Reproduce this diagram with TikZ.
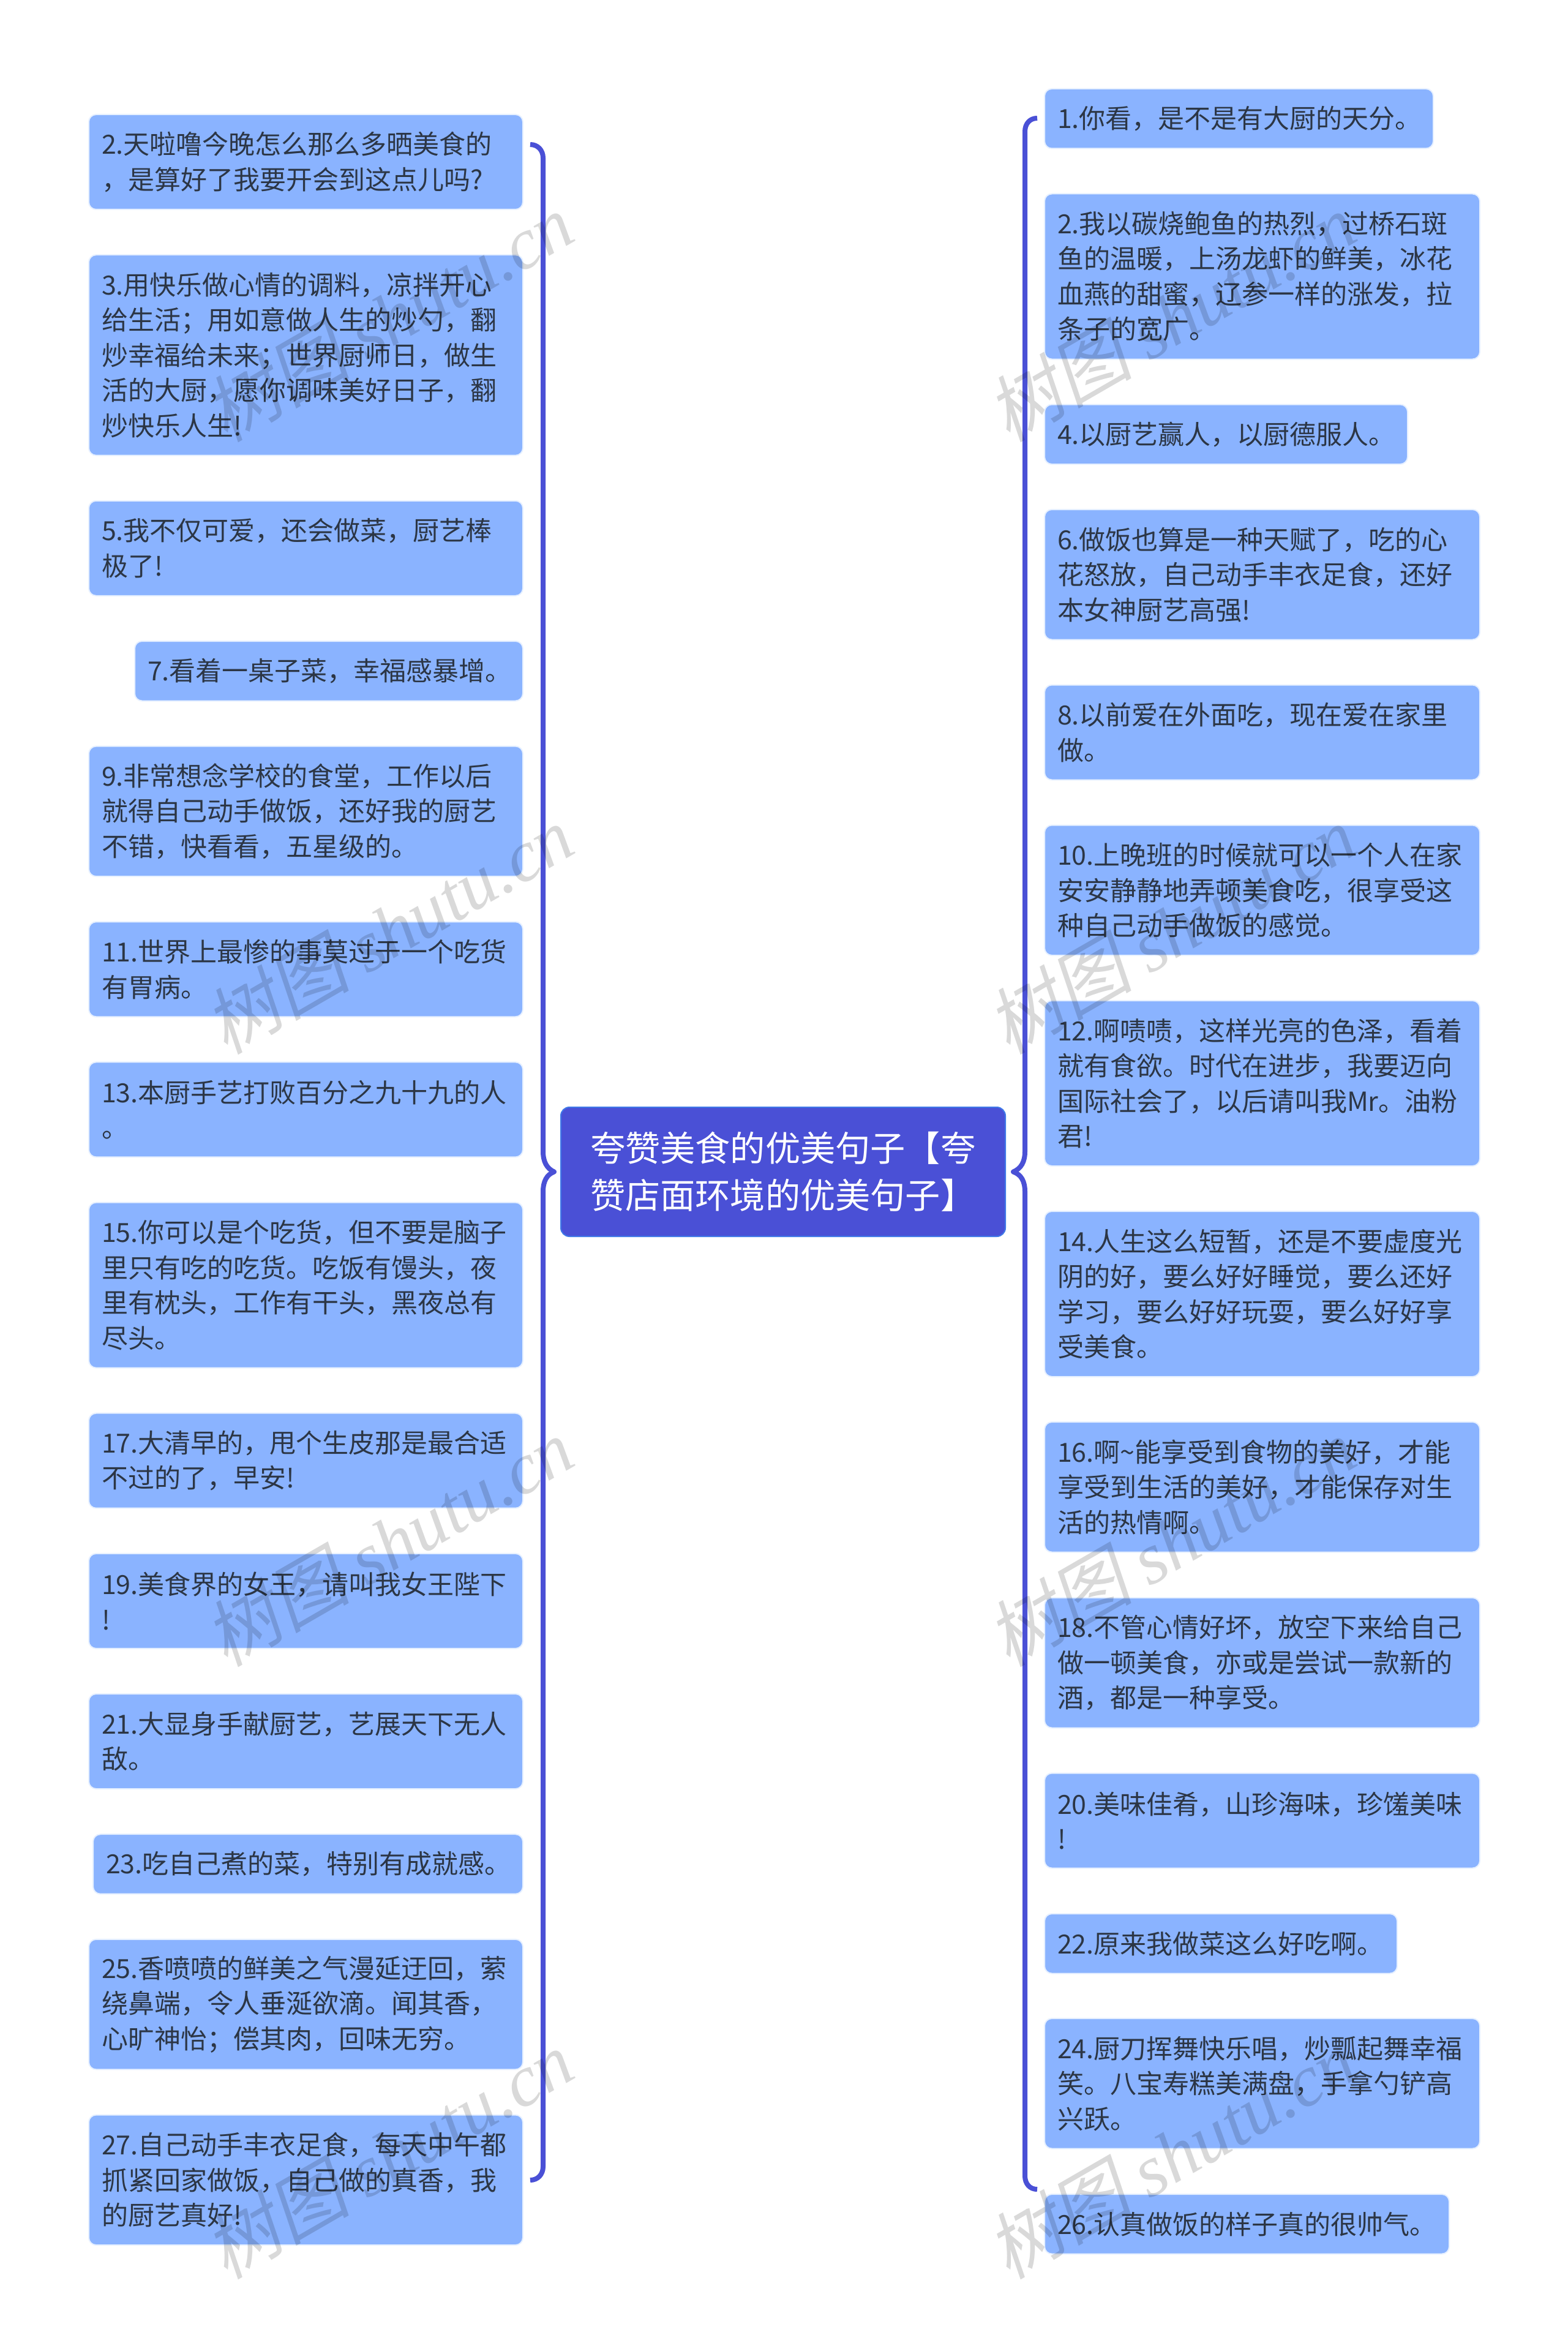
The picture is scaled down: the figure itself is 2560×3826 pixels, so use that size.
\documentclass[tikz,border=0pt]{standalone}
\usepackage{fontspec}
\setmainfont{Noto Sans CJK SC}
\newfontfamily\wmcjk[FakeSlant=0.2]{Noto Sans CJK SC}
\newfontfamily\wmlat{Liberation Serif}
\definecolor{cardfill}{HTML}{8AB3FF}
\definecolor{cardedge}{HTML}{E6F0FF}
\definecolor{rootfill}{HTML}{4A50D6}
\definecolor{rootedge}{HTML}{3F78E8}
\definecolor{inkc}{HTML}{2C3645}
\tikzset{
  x=0.5pt,y=-0.5pt,
  card/.style={draw=cardedge,line width=1pt,fill=cardfill,rounded corners=6pt,anchor=north west,
    inner xsep=10.5pt,inner ysep=0pt,align=left,text=inkc,
    font=\fontsize{21.5}{28.75}\selectfont},
  rootcard/.style={draw=rootedge,line width=1pt,fill=rootfill,rounded corners=7pt,anchor=north west,
    inner xsep=24pt,inner ysep=0pt,align=left,text=white,
    font=\fontsize{28.6}{38.5}\selectfont},
  brace/.style={draw=rootfill,line width=4pt,line cap=butt,line join=round},
  wmark/.style={rotate=30,text=black,opacity=0.15,inner sep=0pt,font=\fontsize{59.5}{62}\selectfont}
}
\newcommand{\card}[6]{%
  \pgfmathsetmacro{\cw}{(#4-#2)*0.5-21}%
  \pgfmathsetmacro{\ch}{(#5-#3)*0.5}%
  \node[card,text width=\cw pt,minimum height=\ch pt] (#1) at (#2,#3) {#6};%
}
\newcommand{\wm}[3]{\node[wmark] (#1) at (#2,#3) {{\wmcjk 树图} {\wmlat\itshape shutu.cn}};}
\begin{document}
\begin{tikzpicture}
\useasboundingbox (0,0) rectangle (2560,3826);
\fill[white] (0,0) rectangle (2560,3826);
% left column
\card{l2}{144}{186}{853}{341}{2.天啦噜今晚怎么那么多晒美食的\\，是算好了我要开会到这点儿吗?}
\card{l3}{144}{415.2}{853}{742.7}{3.用快乐做心情的调料，凉拌开心\\给生活；用如意做人生的炒勺，翻\\炒幸福给未来；世界厨师日，做生\\活的大厨，愿你调味美好日子，翻\\炒快乐人生!}
\card{l5}{144}{816.8}{853}{971.8}{5.我不仅可爱，还会做菜，厨艺棒\\极了!}
\card{l7}{219}{1046}{853}{1143.5}{7.看着一桌子菜，幸福感暴增。}
\card{l9}{144}{1217.6}{853}{1430.1}{9.非常想念学校的食堂，工作以后\\就得自己动手做饭，还好我的厨艺\\不错，快看看，五星级的。}
\card{l11}{144}{1504.3}{853}{1659.3}{11.世界上最惨的事莫过于一个吃货\\有胃病。}
\card{l13}{144}{1733.4}{853}{1888.4}{13.本厨手艺打败百分之九十九的人\\。}
\card{l15}{144}{1962.6}{853}{2232.6}{15.你可以是个吃货，但不要是脑子\\里只有吃的吃货。吃饭有馒头，夜\\里有枕头，工作有干头，黑夜总有\\尽头。}
\card{l17}{144}{2306.7}{853}{2461.7}{17.大清早的，甩个生皮那是最合适\\不过的了，早安!}
\card{l19}{144}{2535.9}{853}{2690.9}{19.美食界的女王，请叫我女王陛下\\!}
\card{l21}{144}{2765}{853}{2920}{21.大显身手献厨艺，艺展天下无人\\敌。}
\card{l23}{151}{2994.2}{853}{3091.7}{23.吃自己煮的菜，特别有成就感。}
\card{l25}{144}{3165.8}{853}{3378.3}{25.香喷喷的鲜美之气漫延迂回，萦\\绕鼻端，令人垂涎欲滴。闻其香，\\心旷神怡；偿其肉，回味无穷。}
\card{l27}{144}{3452.5}{853}{3665}{27.自己动手丰衣足食，每天中午都\\抓紧回家做饭，自己做的真香，我\\的厨艺真好!}
% right column
\card{r1}{1705}{144}{2340}{241.5}{1.你看，是不是有大厨的天分。}
\card{r2}{1705}{315.5}{2416}{585.5}{2.我以碳烧鲍鱼的热烈，过桥石斑\\鱼的温暖，上汤龙虾的鲜美，冰花\\血燕的甜蜜，辽参一样的涨发，拉\\条子的宽广。}
\card{r4}{1705}{659.5}{2298}{757}{4.以厨艺赢人，以厨德服人。}
\card{r6}{1705}{831}{2416}{1043.5}{6.做饭也算是一种天赋了，吃的心\\花怒放，自己动手丰衣足食，还好\\本女神厨艺高强!}
\card{r8}{1705}{1117.5}{2416}{1272.5}{8.以前爱在外面吃，现在爱在家里\\做。}
\card{r10}{1705}{1346.5}{2416}{1559}{10.上晚班的时候就可以一个人在家\\安安静静地弄顿美食吃，很享受这\\种自己动手做饭的感觉。}
\card{r12}{1705}{1633}{2416}{1903}{12.啊啧啧，这样光亮的色泽，看着\\就有食欲。时代在进步，我要迈向\\国际社会了，以后请叫我Mr。油粉\\君!}
\card{r14}{1705}{1977}{2416}{2247}{14.人生这么短暂，还是不要虚度光\\阴的好，要么好好睡觉，要么还好\\学习，要么好好玩耍，要么好好享\\受美食。}
\card{r16}{1705}{2321}{2416}{2533.5}{16.啊\textasciitilde 能享受到食物的美好，才能\\享受到生活的美好，才能保存对生\\活的热情啊。}
\card{r18}{1705}{2608}{2416}{2820.5}{18.不管心情好坏，放空下来给自己\\做一顿美食，亦或是尝试一款新的\\酒，都是一种享受。}
\card{r20}{1705}{2894.5}{2416}{3049.5}{20.美味佳肴，山珍海味，珍馐美味\\!}
\card{r22}{1705}{3124}{2281}{3221.5}{22.原来我做菜这么好吃啊。}
\card{r24}{1705}{3295}{2416}{3507.5}{24.厨刀挥舞快乐唱，炒瓢起舞幸福\\笑。八宝寿糕美满盘，手拿勺铲高\\兴跃。}
\card{r26}{1705}{3582}{2366}{3679.5}{26.认真做饭的样子真的很帅气。}
% root
\node[rootcard,text width=315pt,minimum height=105.5pt] (c) at (915,1807) {夸赞美食的优美句子【夸\\赞店面环境的优美句子】};
% braces
\coordinate (lcusp) at ([xshift=-5pt]c.west);
\coordinate (rcusp) at ([xshift=6pt]c.east);
\coordinate (ltop) at (866,236);
\coordinate (lbot) at (866,3560);
\coordinate (rtop) at (1694,193);
\coordinate (rbot) at (1694,3575);
\draw[brace] (ltop) .. controls (878,236) and (887,245) .. (887,258) -- (887,1880)
  .. controls (887,1897) and (893,1908) .. (lcusp)
  .. controls (893,1918) and (887,1929) .. (887,1946) -- (887,3538)
  .. controls (887,3551) and (878,3560) .. (lbot);
\draw[brace] (rtop) .. controls (1682,193) and (1674,202) .. (1674,215) -- (1674,1880)
  .. controls (1674,1897) and (1668,1908) .. (rcusp)
  .. controls (1668,1918) and (1674,1929) .. (1674,1946) -- (1674,3553)
  .. controls (1674,3566) and (1682,3575) .. (rbot);
% watermarks
\wm{w1}{635}{518}\wm{w2}{635}{1518}\wm{w3}{635}{2518}\wm{w4}{635}{3518}
\wm{w5}{1913}{518}\wm{w6}{1913}{1518}\wm{w7}{1913}{2518}\wm{w8}{1913}{3518}
\end{tikzpicture}
\end{document}
